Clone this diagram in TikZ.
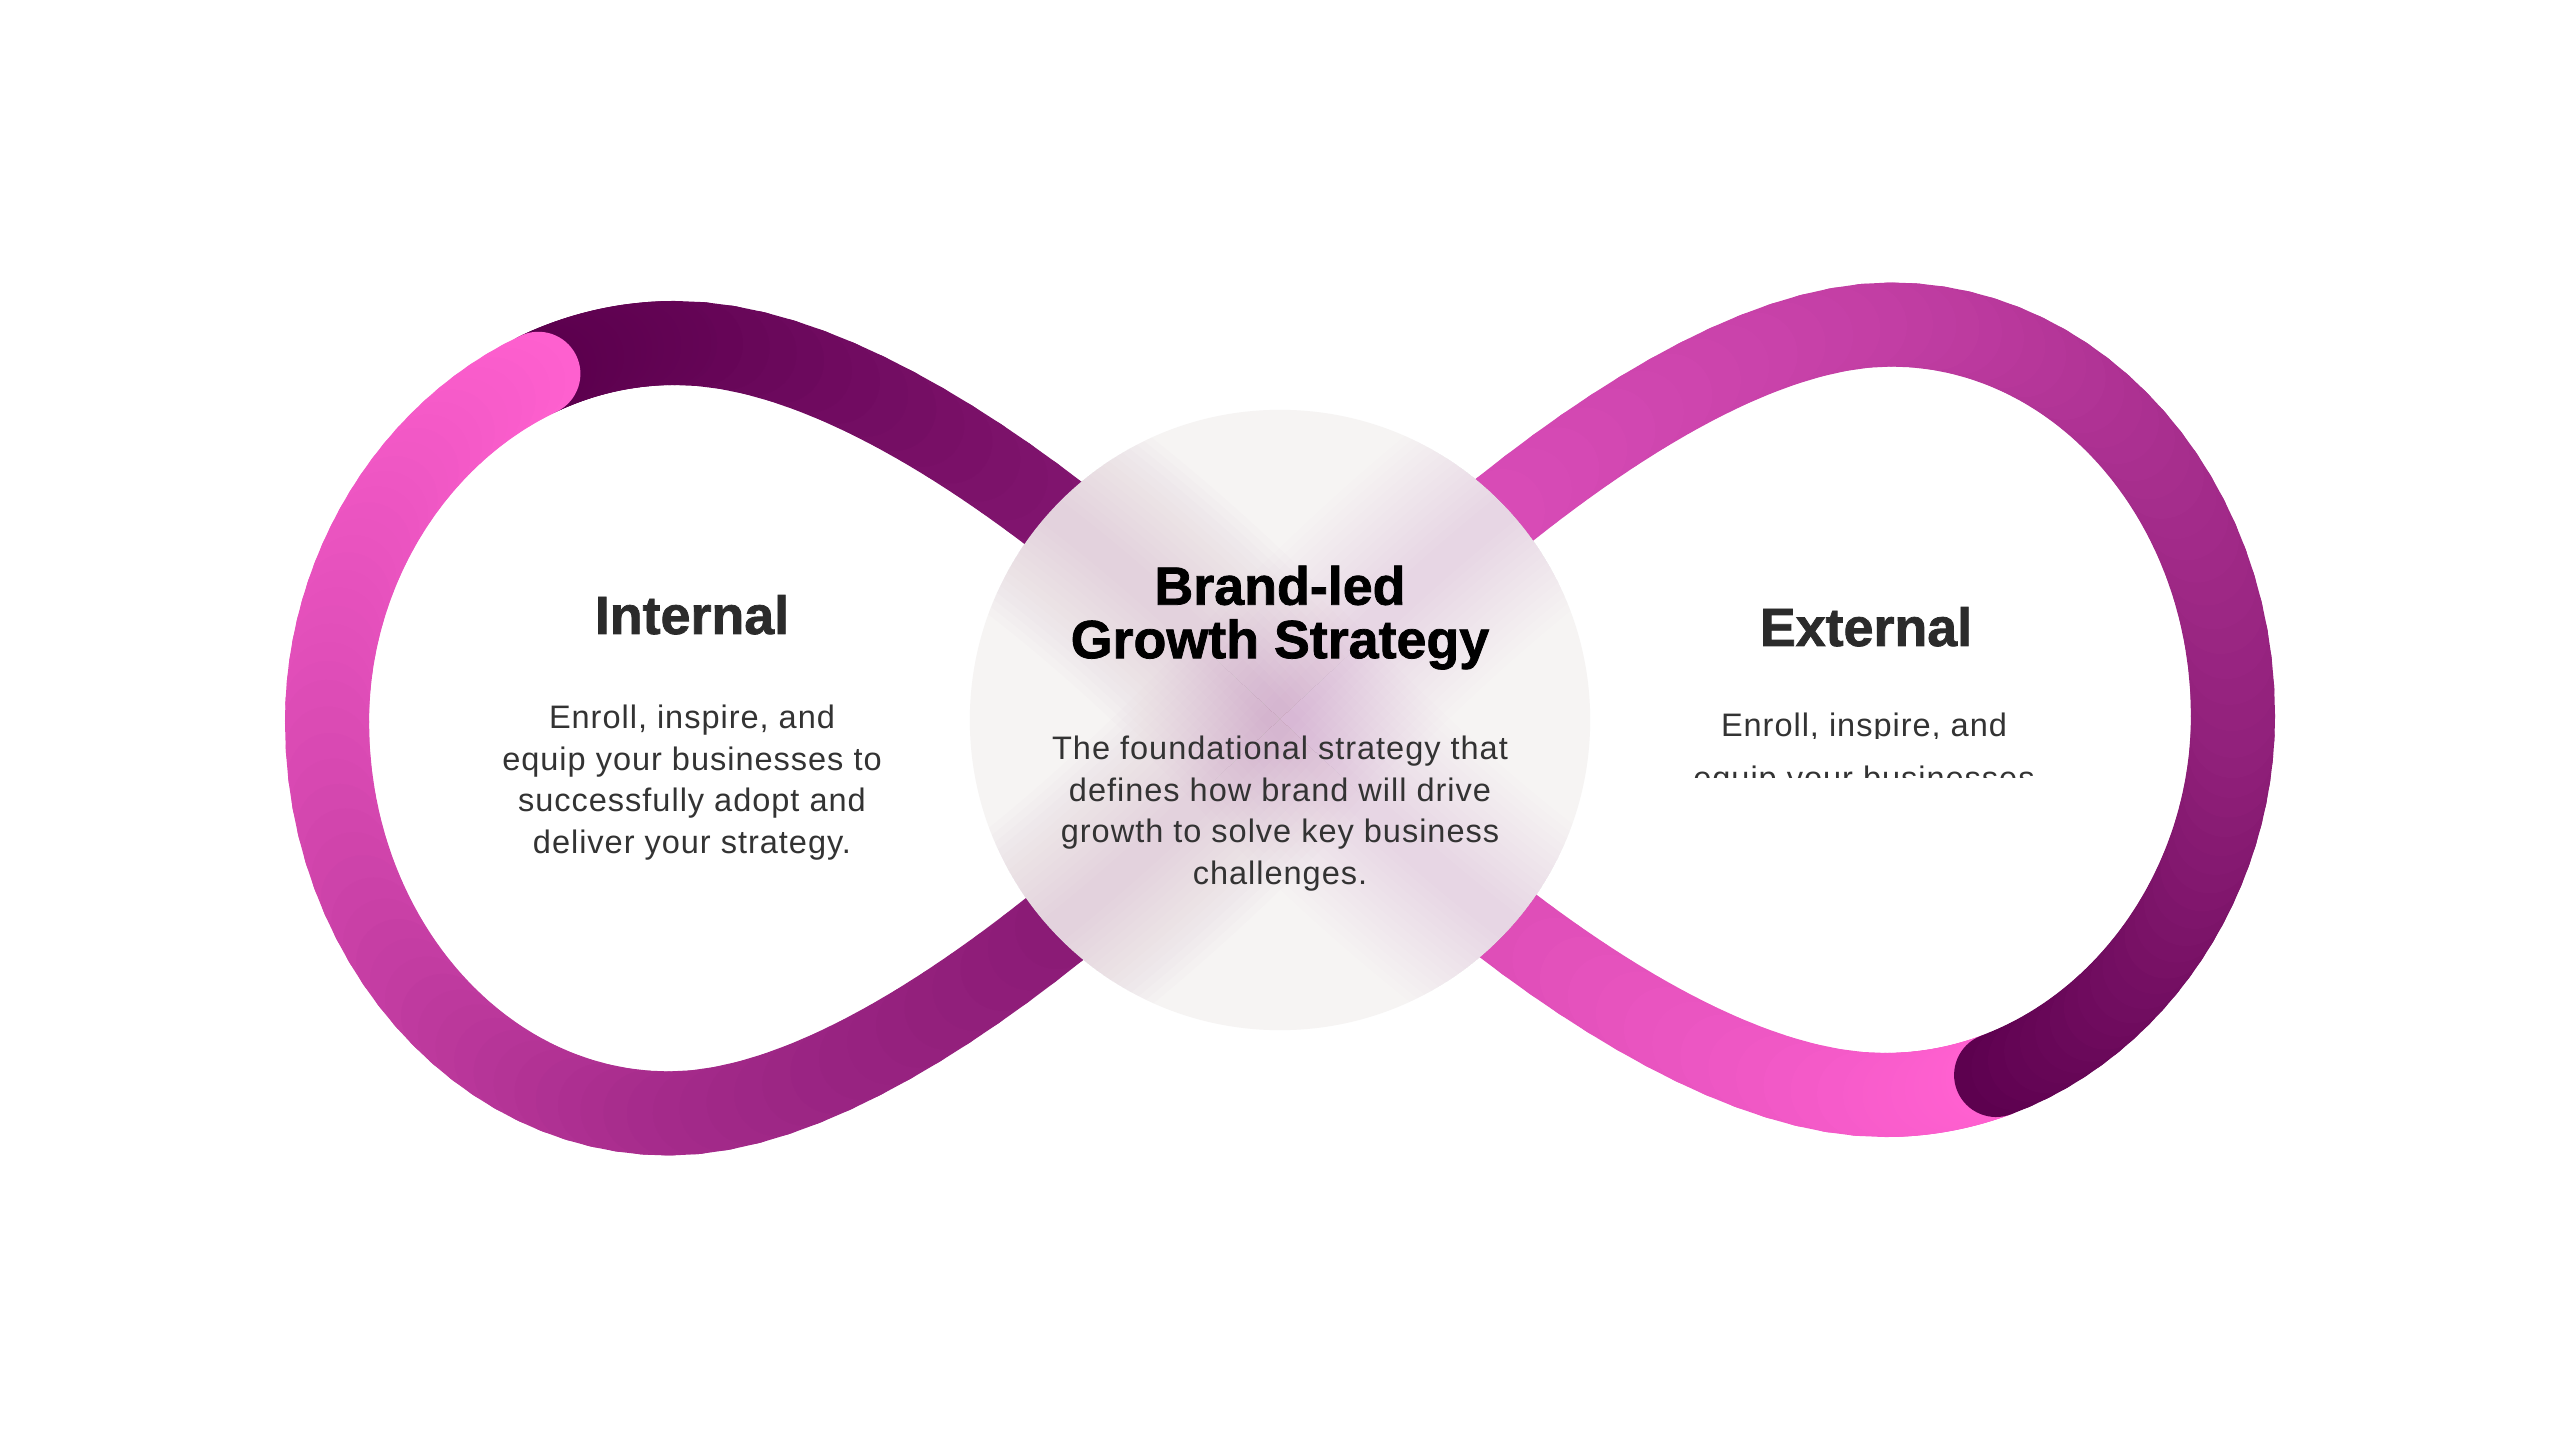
\documentclass[tikz,border=0pt]{standalone}
\usepackage{fontspec}
\setmainfont{Liberation Sans}
\newfontfamily\copyfont[LetterSpace=3]{Liberation Sans}
\newfontfamily\headfont[FakeBold=1.4]{Liberation Sans Bold}
\usepackage{xcolor}
\definecolor{hubgray}{HTML}{F6F4F3}
\definecolor{hazeplum}{HTML}{9A4090}
\definecolor{hazepink}{HTML}{D060B8}
\definecolor{titlegray}{HTML}{2B2B2B}
\definecolor{copygray}{HTML}{333333}
\definecolor{loopdark}{HTML}{5C004E}
\definecolor{looppink}{HTML}{FF60D0}
\definecolor{intmid}{HTML}{9A2285}
\definecolor{intend}{HTML}{781068}
\definecolor{extmid}{HTML}{C842A8}
\definecolor{extend}{HTML}{E855C4}
\usetikzlibrary{positioning}
\tikzset{
  band/.style={line width=0.84cm,line cap=round},
  hub/.style={circle,fill=hubgray,minimum size=6.2cm,inner sep=0pt},
  haze/.style={draw opacity=0.011},
  looptitle/.style={font=\headfont\fontsize{15.3}{15}\selectfont,text=titlegray,inner sep=0pt,anchor=base},
  hubtitle/.style={font=\headfont\fontsize{15.3}{15.2}\selectfont,text=black,align=center,inner sep=0pt,anchor=north},
  copytext/.style={font=\copyfont\fontsize{9.25}{11.8}\selectfont,text=copygray,align=center,inner sep=0pt,anchor=north},
  copyline/.style={copytext,anchor=base},
}
% one curve piece of a loop, coloured from bandA to bandB
\newcommand{\loopband}[6]{%
  \path #1 .. controls #2 and #3 .. #4
    \foreach \k [evaluate=\k as \t using \k/24] in {0,...,24}{coordinate[pos=\t] (lb\k)};
  \foreach \k [evaluate=\k as \m using int(\k+1),evaluate=\k as \q using #5+(#6-#5)*(\k+0.5)/24] in {0,...,23}
    \draw[band,draw=bandA!\q!bandB] (lb\k) -- (lb\m);
}

\begin{document}
\begin{tikzpicture}[x=0.01cm,y=-0.01cm]
\useasboundingbox (0,0) rectangle (2560,1440);
\fill[white] (0,0) rectangle (2560,1440);

% left loop
\begin{scope}
\colorlet{bandA}{intmid}\colorlet{bandB}{loopdark}
\loopband{(1280,719)}{(1150,579)}{(880,342)}{(675,343)}{100}{14}
\loopband{(675,343)}{(626.25,343)}{(580.1,354.06)}{(538.4,373.8)}{14}{0}
\colorlet{bandA}{looppink}\colorlet{bandB}{intend}
\loopband{(538.4,373.8)}{(413.06,433.06)}{(327,570.5)}{(327,722)}{100}{76}
\loopband{(327,722)}{(327,938)}{(480,1113.5)}{(669,1113.5)}{76}{35}
\loopband{(669,1113.5)}{(874,1113.5)}{(1150,859)}{(1280,719)}{35}{0}
\end{scope}

% right loop, same curve turned half round
\begin{scope}[rotate around={180:(1280,719)}]
\colorlet{bandA}{extmid}\colorlet{bandB}{looppink}
\loopband{(1280,719)}{(1150,579)}{(880,342)}{(675,343)}{100}{14}
\loopband{(675,343)}{(636,343)}{(598.7,350.1)}{(563.9,363)}{14}{0}
\colorlet{bandA}{loopdark}\colorlet{bandB}{extend}
\loopband{(563.9,363)}{(424.9,414.8)}{(327,560.4)}{(327,722)}{100}{62}
\loopband{(327,722)}{(327,938)}{(480,1113.5)}{(669,1113.5)}{62}{29}
\loopband{(669,1113.5)}{(874,1113.5)}{(1150,859)}{(1280,719)}{29}{0}
\end{scope}

% frosted hub with the crossing seen through it
\node[hub] (hub) at (1280,720) {};
\begin{scope}
\clip (hub.center) circle[radius=3.1cm];
\foreach \w in {0.3,0.45,...,2.4}{
  \draw[haze,hazeplum,line width=\w cm] (675,343) .. controls (880,342) and (1150,579) .. (1280,719);
  \draw[haze,hazeplum,line width=\w cm] (669,1113.5) .. controls (874,1113.5) and (1150,859) .. (1280,719);
  \draw[haze,hazepink,line width=\w cm] (1280,719) .. controls (1410,859) and (1680,1096) .. (1885,1095);
  \draw[haze,hazepink,line width=\w cm] (1280,719) .. controls (1410,579) and (1686,324.5) .. (1891,324.5);
}
\end{scope}

\node[looptitle] (inttitle) at (692,634) {Internal};
\node[copytext] (intcopy) at (692,704.5) {Enroll, inspire, and\\equip your businesses to\\successfully adopt and\\deliver your strategy.};

\node[hubtitle] (hubtitle) at (1280,565) {Brand-led\\Growth Strategy};
\node[copytext] (hubcopy) at (1280,735.5) {The foundational strategy that\\defines how brand will drive\\growth to solve key business\\challenges.};

\node[looptitle] (exttitle) at (1866,646) {External};
\begin{scope}
\clip (1600,600) rectangle (2140,739);
\node[copyline] (extcopya) at (1864,737) {Enroll, inspire, and};
\end{scope}
\begin{scope}
\clip (1600,745) rectangle (2140,778);
\node[copyline] (extcopyb) at (1864,790) {equip your businesses};
\end{scope}
\end{tikzpicture}
\end{document}
